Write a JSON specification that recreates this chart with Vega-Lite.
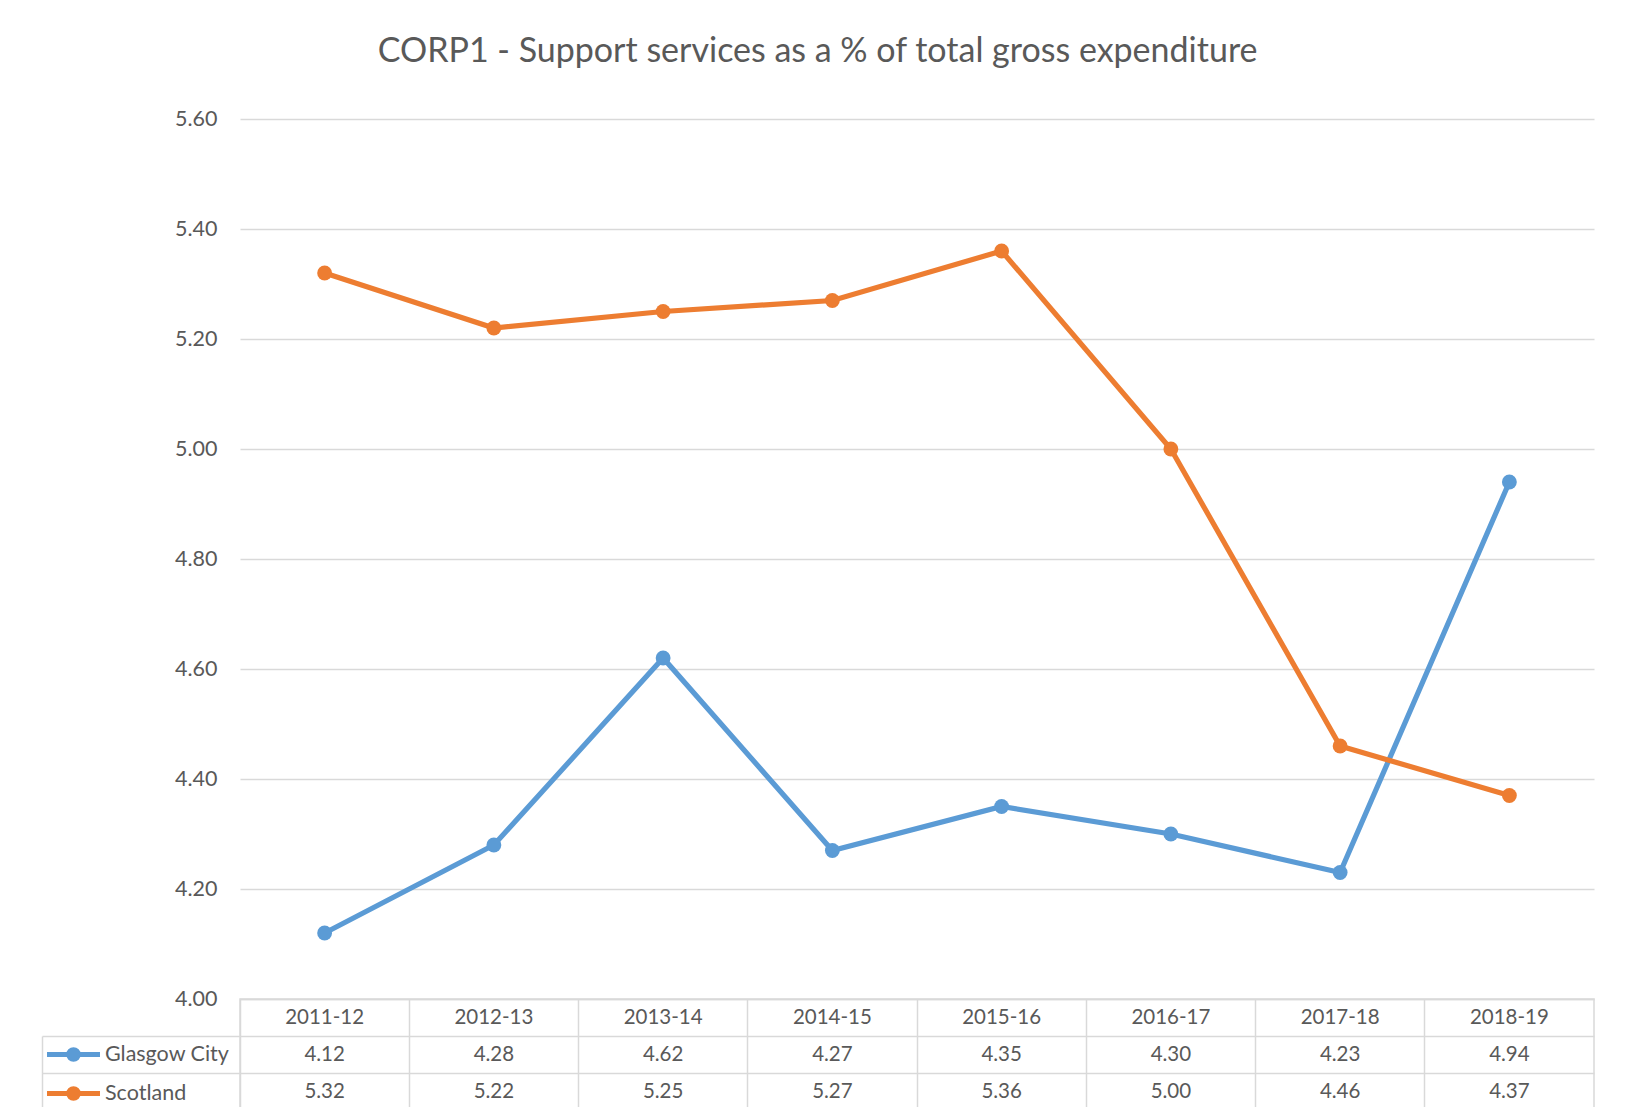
{
  "$schema": "https://vega.github.io/schema/vega-lite/v6.json",
  "padding": {"left": 40, "top": 35, "right": 0, "bottom": 0},
  "bounds": "flush",
  "spacing": 0,
  "background": "white",
  "title": {
    "text": "CORP1 - Support services as a % of total gross expenditure",
    "font": "Lato",
    "fontSize": 34,
    "fontWeight": "normal",
    "color": "#595959",
    "anchor": "middle",
    "frame": "bounds",
    "offset": 39
  },
  "config": {"font": "Lato", "view": {"stroke": null}},
  "data": {
    "values": [
      {"year": "2011-12", "series": "Glasgow City", "value": 4.12},
      {"year": "2012-13", "series": "Glasgow City", "value": 4.28},
      {"year": "2013-14", "series": "Glasgow City", "value": 4.62},
      {"year": "2014-15", "series": "Glasgow City", "value": 4.27},
      {"year": "2015-16", "series": "Glasgow City", "value": 4.35},
      {"year": "2016-17", "series": "Glasgow City", "value": 4.30},
      {"year": "2017-18", "series": "Glasgow City", "value": 4.23},
      {"year": "2018-19", "series": "Glasgow City", "value": 4.94},
      {"year": "2011-12", "series": "Scotland", "value": 5.32},
      {"year": "2012-13", "series": "Scotland", "value": 5.22},
      {"year": "2013-14", "series": "Scotland", "value": 5.25},
      {"year": "2014-15", "series": "Scotland", "value": 5.27},
      {"year": "2015-16", "series": "Scotland", "value": 5.36},
      {"year": "2016-17", "series": "Scotland", "value": 5.00},
      {"year": "2017-18", "series": "Scotland", "value": 4.46},
      {"year": "2018-19", "series": "Scotland", "value": 4.37}
    ]
  },
  "vconcat": [
    {
      "width": 1354,
      "height": 880,
      "encoding": {
        "x": {"field": "year", "type": "ordinal", "scale": {"type": "point", "padding": 0.5}, "axis": null},
        "y": {
          "field": "value",
          "type": "quantitative",
          "scale": {"domain": [4, 5.6], "nice": false, "zero": false},
          "axis": {
            "title": null,
            "values": [4, 4.2, 4.4, 4.6, 4.8, 5, 5.2, 5.4, 5.6],
            "format": ".2f",
            "ticks": false,
            "domain": false,
            "labelPadding": 23,
            "labelFontSize": 21.5,
            "labelColor": "#595959",
            "labelFont": "Lato",
            "gridColor": "#D9D9D9",
            "gridWidth": 1.5
          }
        },
        "color": {
          "field": "series",
          "type": "nominal",
          "scale": {"domain": ["Glasgow City", "Scotland"], "range": ["#5B9BD5", "#ED7D31"]},
          "legend": {
            "title": null,
            "orient": "none",
            "legendX": -180,
            "legendY": 922,
            "symbolType": "M-2.5,0L2.5,0M-0.45,0A0.45,0.45,0,1,1,0.45,0A0.45,0.45,0,1,1,-0.45,0Z",
            "symbolSize": 449,
            "symbolStrokeWidth": 5,
            "labelFontSize": 21.5,
            "labelFont": "Lato",
            "labelColor": "#595959",
            "labelOffset": 18,
            "rowPadding": 8,
            "padding": 0,
            "encode": {
              "symbols": {
                "update": {
                  "fill": {"scale": "color", "field": "value"},
                  "stroke": {"scale": "color", "field": "value"},
                  "strokeWidth": {"value": 5},
                  "size": {"value": 449},
                  "opacity": {"value": 1}
                }
              }
            }
          }
        }
      },
      "layer": [
        {"mark": {"type": "line", "strokeWidth": 5.2}},
        {"mark": {"type": "point", "filled": true, "size": 220, "opacity": 1}}
      ]
    },
    {
      "width": 1354,
      "height": 111,
      "view": {"stroke": "#D9D9D9", "strokeWidth": 1.5},
      "encoding": {
        "x": {
          "field": "year",
          "type": "ordinal",
          "scale": {"type": "band", "paddingInner": 0, "paddingOuter": 0},
          "axis": {"title": null, "labels": false, "ticks": false, "domain": false, "grid": true, "bandPosition": 0, "gridColor": "#D9D9D9", "gridWidth": 1.5}
        }
      },
      "layer": [
        {
          "transform": [{"filter": "datum.series === 'Glasgow City'"}],
          "mark": {"type": "text", "fontSize": 20.5, "color": "#595959", "font": "Lato"},
          "encoding": {
            "y": {
              "datum": "header",
              "type": "nominal",
              "scale": {"type": "band", "domain": ["header", "Glasgow City", "Scotland"], "paddingInner": 0, "paddingOuter": 0},
              "axis": {"orient": "left", "offset": 198, "title": null, "labels": false, "ticks": false, "grid": false, "domain": true, "domainColor": "#D9D9D9", "domainWidth": 1.5, "domainDash": [0, 37, 200]}
            },
            "text": {"field": "year"}
          }
        },
        {
          "mark": {"type": "text", "fontSize": 20.5, "color": "#595959", "font": "Lato"},
          "encoding": {
            "y": {
              "field": "series",
              "type": "nominal",
              "scale": {"type": "band", "domain": ["header", "Glasgow City", "Scotland"], "paddingInner": 0, "paddingOuter": 0},
              "axis": {
                "orient": "left",
                "title": null,
                "labels": false,
                "domain": false,
                "grid": true,
                "gridColor": "#D9D9D9",
                "gridWidth": 1.5,
                "bandPosition": 0,
                "ticks": true,
                "tickSize": 198,
                "tickWidth": 1.5,
                "tickColor": {"condition": {"test": "datum.value === 'header'", "value": "transparent"}, "value": "#D9D9D9"}
              }
            },
            "text": {"field": "value", "type": "quantitative", "format": ".2f"}
          }
        }
      ],
      "resolve": {"axis": {"y": "independent"}}
    }
  ]
}
